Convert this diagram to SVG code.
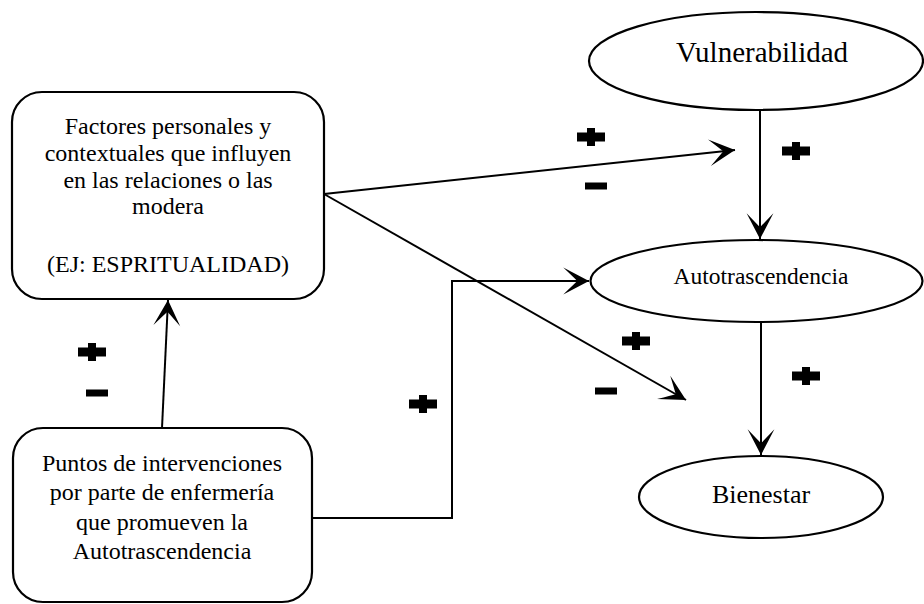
<svg xmlns="http://www.w3.org/2000/svg" xmlns:xlink="http://www.w3.org/1999/xlink" width="924" height="604" viewBox="0 0 924 604">
  <style>
    .shape { fill: #ffffff; stroke: #000000; stroke-width: 2.2; }
    .edge { fill: none; stroke: #000000; stroke-width: 2; }
  </style>
  <defs>
    <marker id="arrow" markerUnits="userSpaceOnUse" markerWidth="30" markerHeight="30" viewBox="-26 -14 28 28" refX="0" refY="0" orient="auto">
      <path d="M0,0 L-24,-12.5 Q-14,-3 -11,0 Q-14,3 -24,12.5 Z" fill="#000000"/>
    </marker>
    <g id="plus">
      <rect x="-14" y="-4.5" width="28" height="9" fill="#000000"/>
      <rect x="-4" y="-9" width="8" height="18" fill="#000000"/>
    </g>
    <g id="minus">
      <rect x="-11" y="-3.5" width="22" height="7" fill="#000000"/>
    </g>
  </defs>
  <rect width="924" height="604" fill="#ffffff"/>

  <g id="connectors">
    <line class="edge" x1="324" y1="194" x2="735" y2="150" marker-end="url(#arrow)"/>
    <line class="edge" x1="324" y1="194" x2="686" y2="400" marker-end="url(#arrow)"/>
    <line class="edge" x1="760" y1="110" x2="760" y2="239" marker-end="url(#arrow)"/>
    <line class="edge" x1="761" y1="322" x2="761" y2="455" marker-end="url(#arrow)"/>
    <line class="edge" x1="162" y1="428" x2="168" y2="300" marker-end="url(#arrow)"/>
    <polyline class="edge" points="312,518 452,518 452,281 589,281" marker-end="url(#arrow)"/>
  </g>

  <g id="signs">
    <use xlink:href="#plus" x="591" y="137"/>
    <use xlink:href="#minus" x="596" y="186"/>
    <use xlink:href="#plus" x="796" y="151"/>
    <use xlink:href="#plus" x="636" y="341"/>
    <use xlink:href="#minus" x="606" y="391"/>
    <use xlink:href="#plus" x="806" y="376"/>
    <use xlink:href="#plus" x="92" y="352"/>
    <use xlink:href="#minus" x="97" y="393"/>
    <use xlink:href="#plus" x="423" y="404"/>
  </g>

  <g id="factores">
    <rect class="shape" x="12" y="92" width="312" height="207" rx="30" ry="30"/>
    <text x="168" y="134" font-family="Liberation Serif" font-size="24" text-anchor="middle">Factores personales y</text>
    <text x="168" y="161" font-family="Liberation Serif" font-size="24" text-anchor="middle">contextuales que influyen</text>
    <text x="168" y="188" font-family="Liberation Serif" font-size="24" text-anchor="middle">en las relaciones o las</text>
    <text x="168" y="214" font-family="Liberation Serif" font-size="24" text-anchor="middle">modera</text>
    <text x="168" y="272" font-family="Liberation Serif" font-size="24" text-anchor="middle">(EJ: ESPRITUALIDAD)</text>
  </g>

  <g id="puntos">
    <rect class="shape" x="13" y="428" width="299" height="174" rx="30" ry="30"/>
    <text x="162" y="471" font-family="Liberation Serif" font-size="24" text-anchor="middle">Puntos de intervenciones</text>
    <text x="162" y="500" font-family="Liberation Serif" font-size="24" text-anchor="middle">por parte de enfermería</text>
    <text x="162" y="530" font-family="Liberation Serif" font-size="24" text-anchor="middle">que promueven la</text>
    <text x="162" y="559" font-family="Liberation Serif" font-size="24" text-anchor="middle">Autotrascendencia</text>
  </g>

  <g id="vulnerabilidad">
    <ellipse class="shape" cx="756" cy="61" rx="167" ry="49"/>
    <text x="762" y="62" font-family="Liberation Serif" font-size="29" text-anchor="middle">Vulnerabilidad</text>
  </g>

  <g id="autotrascendencia">
    <ellipse class="shape" cx="756.5" cy="281" rx="166" ry="41"/>
    <text x="761" y="284" font-family="Liberation Serif" font-size="23.5" text-anchor="middle">Autotrascendencia</text>
  </g>

  <g id="bienestar">
    <ellipse class="shape" cx="761" cy="497" rx="122" ry="41"/>
    <text x="761" y="503" font-family="Liberation Serif" font-size="26" text-anchor="middle">Bienestar</text>
  </g>
</svg>
